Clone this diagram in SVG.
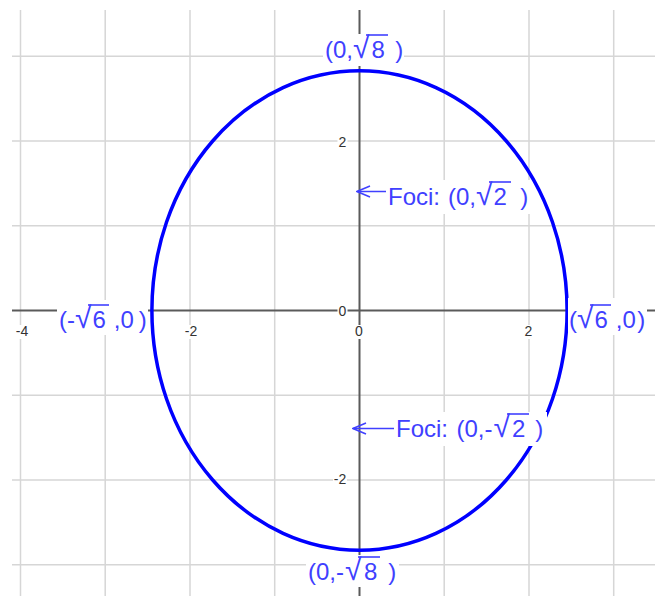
<svg xmlns="http://www.w3.org/2000/svg" width="662" height="596" viewBox="0 0 662 596">
<defs>
<style>
.grid{stroke:#d6d6d6;stroke-width:1.5;fill:none}
.axis{stroke:#5a5a5a;stroke-width:2;fill:none}
.tick{font-family:"Liberation Sans",Arial,sans-serif;font-size:14px;fill:#333;text-anchor:middle}
.lbl{font-family:"Liberation Sans",Arial,sans-serif;font-size:24px;fill:#4040ff}
.rad{font-size:30px}
.bar{stroke:#4040ff;stroke-width:1.6}
.bg{fill:#fff}
.curve{fill:none;stroke:#0000ff;stroke-width:3.5}
.arrow{stroke:#4040ff;stroke-width:1.5;fill:none}
</style>
<marker id="head" markerUnits="userSpaceOnUse" markerWidth="16" markerHeight="14" viewBox="-15 -7 16 14" refX="0" refY="0" orient="auto">
<path d="M-13,-5.5 L0,0 L-13,5.5" fill="none" stroke="#4040ff" stroke-width="1.5"/>
</marker>
</defs>
<rect width="662" height="596" fill="#fff"/>
<g id="grid" class="grid">
<path d="M20.5,10V596M105.2,10V596M190,10V596M274.7,10V596M444.2,10V596M529,10V596M613.7,10V596"/>
<path d="M12,56.2H655M12,141H655M12,225.7H655M12,395.2H655M12,480H655M12,564.7H655"/>
</g>
<g id="axes" class="axis">
<path d="M12,310.5H655"/>
<path d="M359.5,10V596"/>
</g>
<g id="ellipse">
<ellipse class="curve" cx="359.5" cy="310.5" rx="207.6" ry="239.7"/>
</g>
<g id="ticks">
<rect class="bg" x="15" y="325" width="14" height="14"/>
<text class="tick" x="22" y="336">-4</text>
<rect class="bg" x="184" y="325" width="14" height="14"/>
<text class="tick" x="191" y="336">-2</text>
<rect class="bg" x="354" y="325" width="10" height="14"/>
<text class="tick" x="359" y="336">0</text>
<rect class="bg" x="523.5" y="325" width="10" height="14"/>
<text class="tick" x="528.5" y="336">2</text>
<rect class="bg" x="337.5" y="304" width="10" height="14"/>
<text class="tick" x="342.5" y="316">0</text>
<rect class="bg" x="337.5" y="135" width="10" height="14"/>
<text class="tick" x="342.5" y="147">2</text>
<rect class="bg" x="333" y="472" width="14" height="14"/>
<text class="tick" x="340" y="484">-2</text>
</g>
<g id="connectors">
<line class="arrow" x1="390" y1="191.5" x2="357" y2="191.5" marker-end="url(#head)"/>
<line class="arrow" x1="397" y1="428.5" x2="353" y2="428.5" marker-end="url(#head)"/>
</g>
<g id="focus-top">
<rect class="bg" x="386" y="180" width="144" height="34"/>
<text class="lbl" x="388" y="205">Foci:<tspan dx="8">(0,</tspan><tspan class="rad">√</tspan><tspan dx="1">2</tspan><tspan dx="13.5">)</tspan></text>
<line class="bar" x1="489" y1="182" x2="511" y2="182"/>
</g>
<g id="focus-bottom">
<rect class="bg" x="394" y="412" width="153" height="34"/>
<text class="lbl" x="396" y="437">Foci:<tspan dx="8.5">(0,</tspan><tspan>-</tspan><tspan class="rad" dx="1">√</tspan><tspan dx="2">2</tspan><tspan dx="10">)</tspan></text>
<line class="bar" x1="507" y1="414" x2="529" y2="414"/>
</g>
<g id="vertex-top">
<rect class="bg" x="323" y="34" width="81" height="32"/>
<text class="lbl" x="325" y="58">(0,<tspan class="rad">√</tspan><tspan dx="2">8</tspan><tspan dx="10.5">)</tspan></text>
<line class="bar" x1="366" y1="35" x2="388" y2="35"/>
</g>
<g id="vertex-bottom">
<rect class="bg" x="306" y="555" width="93" height="32"/>
<text class="lbl" x="308" y="580">(0,<tspan>-</tspan><tspan class="rad" dx="1">√</tspan><tspan dx="2.5">8</tspan><tspan dx="11">)</tspan></text>
<line class="bar" x1="358" y1="557" x2="380" y2="557"/>
</g>
<g id="vertex-left">
<rect class="bg" x="57" y="300" width="91" height="35"/>
<text class="lbl" x="59" y="328">(-<tspan class="rad">√</tspan><tspan dx="1">6</tspan><tspan dx="8">,0</tspan><tspan dx="5">)</tspan></text>
<line class="bar" x1="88" y1="305" x2="109" y2="305"/>
</g>
<g id="vertex-right">
<rect class="bg" x="568" y="298" width="79" height="37"/>
<text class="lbl" x="569" y="328">(<tspan class="rad">√</tspan><tspan dx="1">6</tspan><tspan dx="8">,0</tspan><tspan dx="1.5">)</tspan></text>
<line class="bar" x1="590" y1="305" x2="611" y2="305"/>
</g>
</svg>
